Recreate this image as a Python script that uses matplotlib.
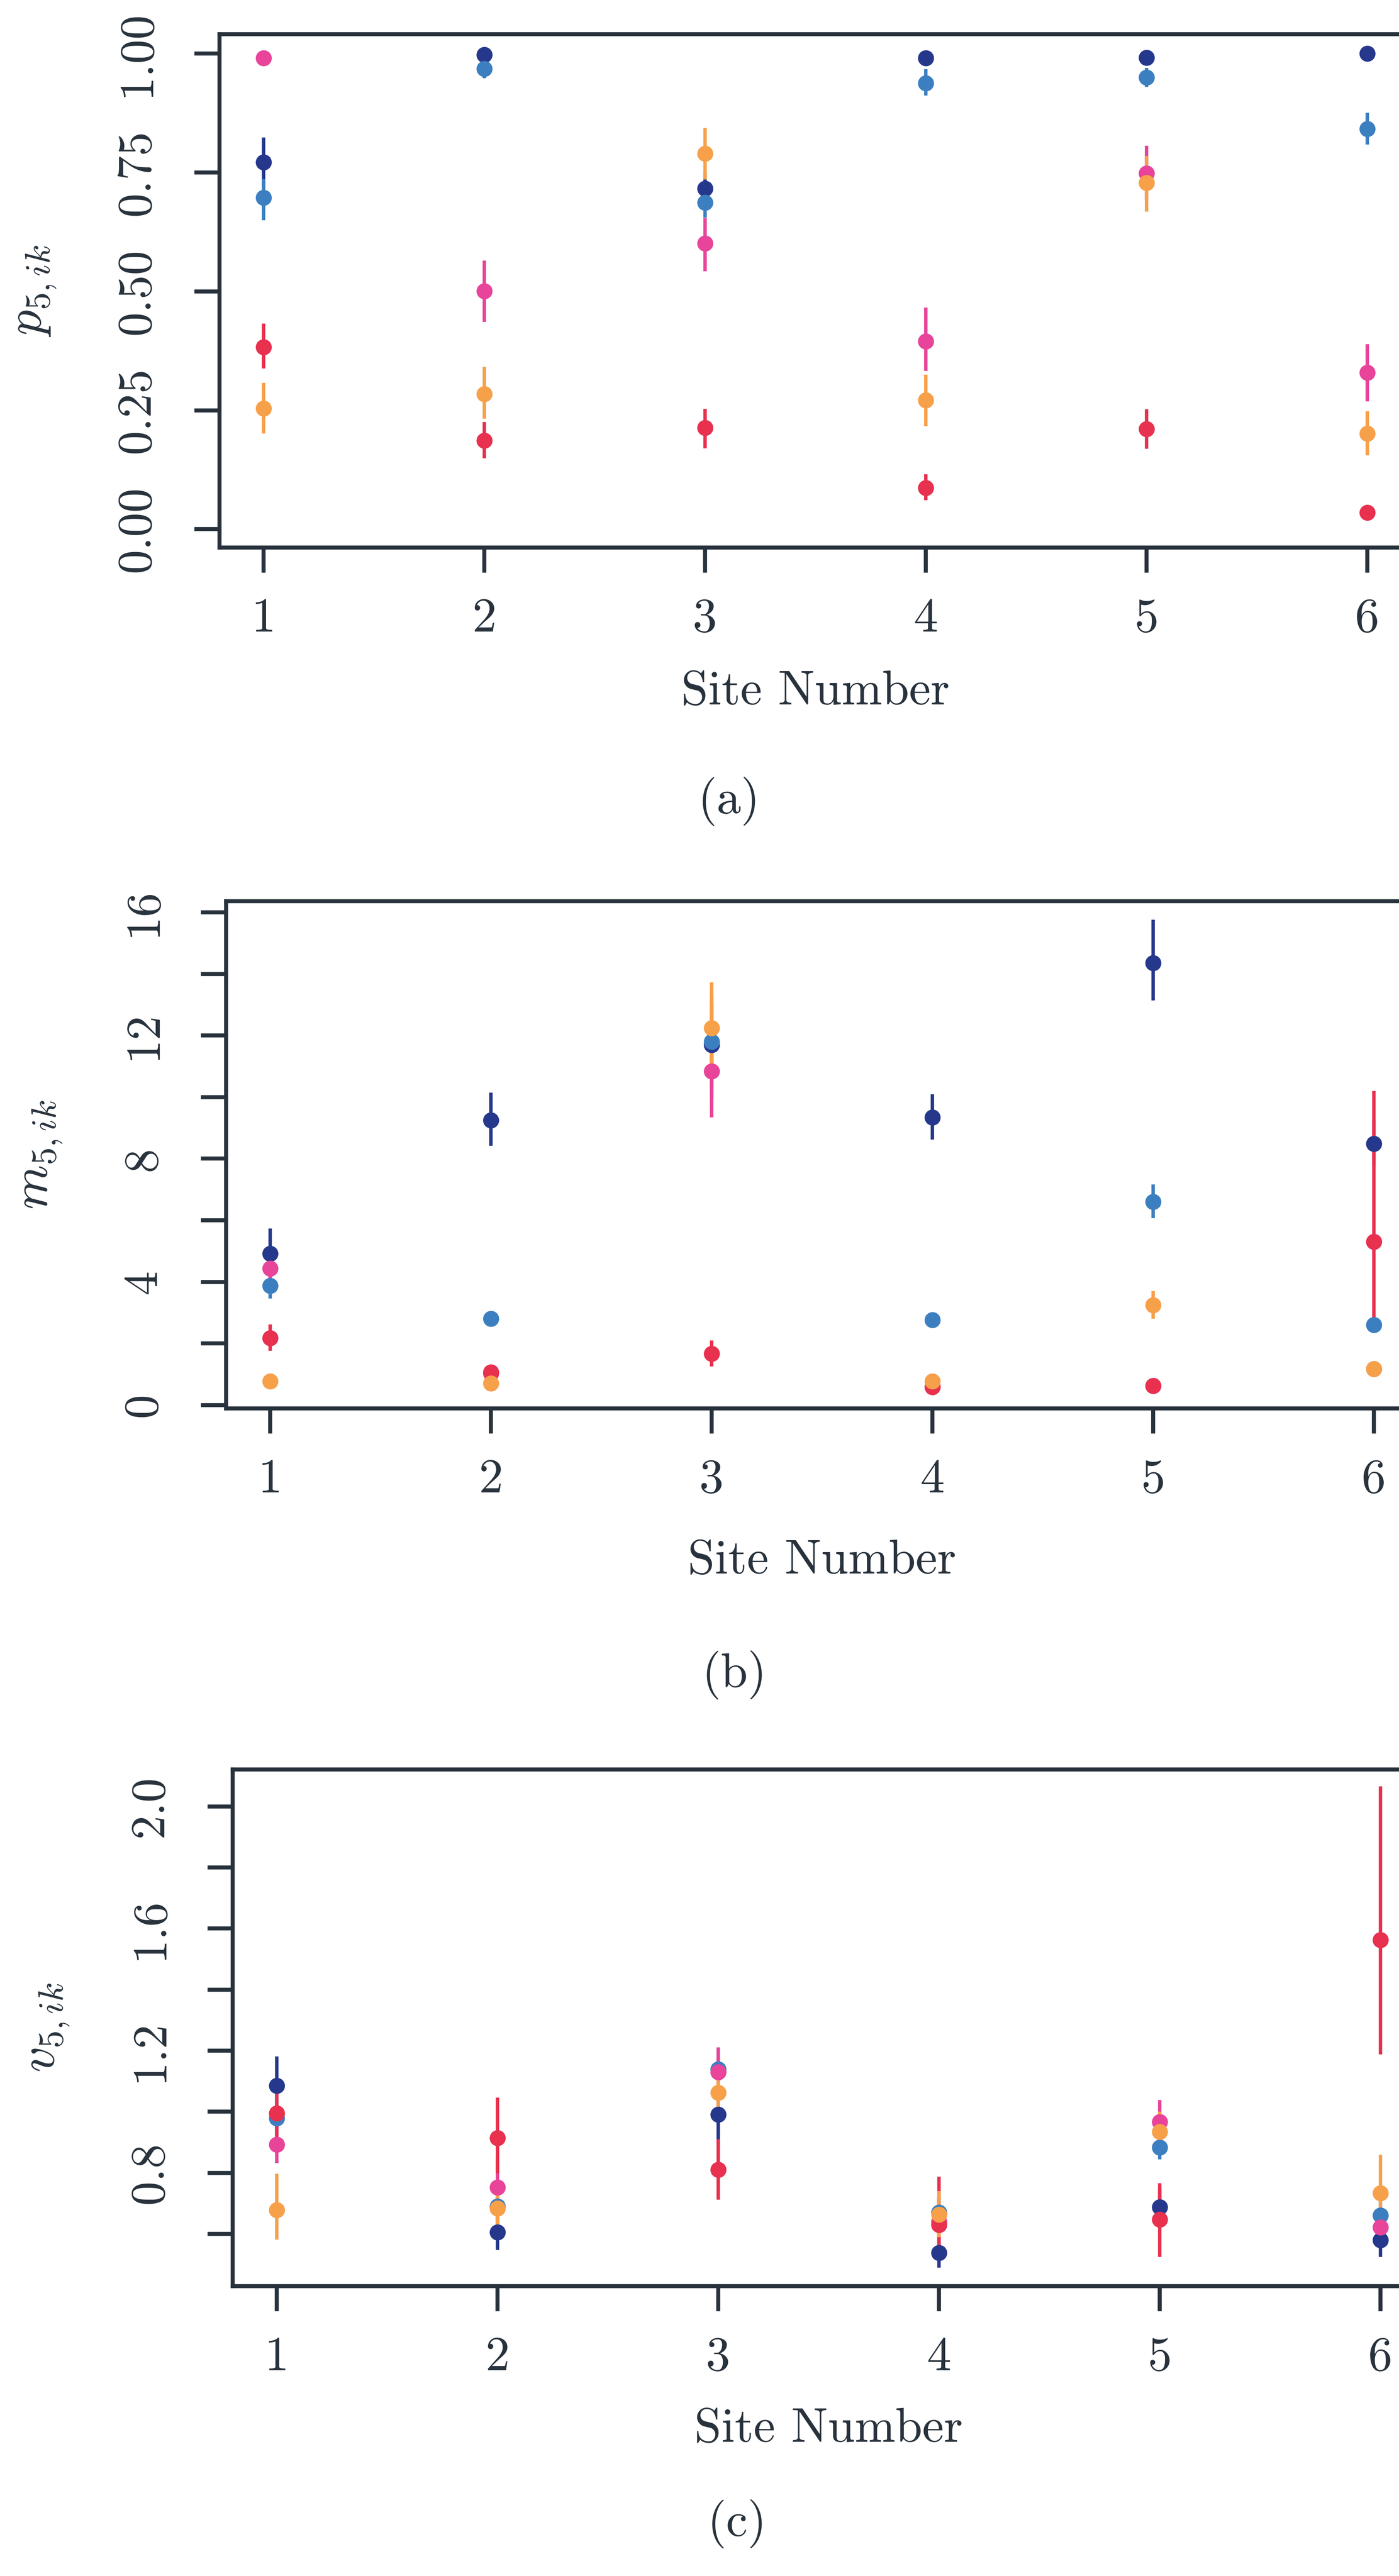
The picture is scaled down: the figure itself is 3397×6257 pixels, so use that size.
import numpy as np
import matplotlib
matplotlib.use("Agg")
import matplotlib.pyplot as plt

plt.rcParams["font.family"] = "cmr10"
plt.rcParams["mathtext.fontset"] = "cm"
plt.rcParams["axes.formatter.use_mathtext"] = True

sites = [1, 2, 3, 4, 5, 6]
colours = ["#26388c", "#3c7fc0", "#e8449a", "#e8304f", "#f7a04a"]

# p_{5,ik}: estimate, lower and upper bound for each group (rows) at each site
p_est = [[0.772, 0.998, 0.716, 0.991, 0.992, 1.000],
         [0.697, 0.968, 0.687, 0.938, 0.950, 0.842],
         [0.991, 0.501, 0.601, 0.395, 0.748, 0.329],
         [0.383, 0.186, 0.213, 0.087, 0.211, 0.035],
         [0.254, 0.284, 0.790, 0.271, 0.728, 0.201]]
p_lo = [[0.722, 0.990, 0.685, 0.980, 0.983, 0.995],
        [0.650, 0.948, 0.655, 0.912, 0.930, 0.809],
        [0.975, 0.436, 0.542, 0.333, 0.690, 0.269],
        [0.338, 0.149, 0.170, 0.061, 0.169, 0.022],
        [0.201, 0.232, 0.735, 0.217, 0.668, 0.155]]
p_hi = [[0.824, 1.000, 0.748, 1.000, 1.000, 1.000],
        [0.736, 0.988, 0.720, 0.967, 0.970, 0.876],
        [1.000, 0.565, 0.654, 0.466, 0.806, 0.389],
        [0.432, 0.225, 0.253, 0.115, 0.252, 0.050],
        [0.308, 0.341, 0.844, 0.325, 0.785, 0.248]]

# m_{5,ik}
m_est = [[4.92, 9.25, 11.70, 9.34, 14.35, 8.48],
         [3.88, 2.80, 11.80, 2.77, 6.60, 2.60],
         [4.44, 1.02, 10.84, 0.60, 0.63, 1.17],
         [2.18, 1.07, 1.67, 0.59, 0.63, 5.31],
         [0.77, 0.71, 12.24, 0.77, 3.25, 1.17]]
m_lo = [[4.10, 8.42, 9.95, 8.62, 13.14, 7.74],
        [3.46, 2.60, 10.30, 2.60, 6.06, 2.45],
        [4.05, 0.90, 9.34, 0.50, 0.55, 1.05],
        [1.76, 0.90, 1.25, 0.50, 0.55, 2.75],
        [0.70, 0.65, 10.80, 0.70, 2.80, 1.10]]
m_hi = [[5.73, 10.15, 13.31, 10.09, 15.76, 9.25],
        [4.30, 3.00, 13.00, 2.95, 7.16, 2.75],
        [4.85, 1.15, 12.30, 0.70, 0.72, 1.30],
        [2.62, 1.25, 2.09, 0.68, 0.72, 10.20],
        [0.85, 0.78, 13.73, 0.85, 3.70, 1.25]]

# v_{5,ik}
v_est = [[1.085, 0.605, 0.991, 0.538, 0.688, 0.580],
         [0.979, 0.690, 1.139, 0.670, 0.884, 0.661],
         [0.893, 0.752, 1.130, 0.640, 0.967, 0.622],
         [0.995, 0.914, 0.811, 0.630, 0.648, 1.563],
         [0.679, 0.684, 1.063, 0.664, 0.935, 0.734]]
v_lo = [[0.990, 0.547, 0.907, 0.489, 0.630, 0.525],
        [0.920, 0.640, 1.080, 0.620, 0.844, 0.610],
        [0.832, 0.680, 1.050, 0.570, 0.900, 0.560],
        [0.900, 0.798, 0.712, 0.550, 0.525, 1.188],
        [0.582, 0.600, 0.980, 0.590, 0.870, 0.610]]
v_hi = [[1.181, 0.660, 1.070, 0.590, 0.750, 0.640],
        [1.040, 0.740, 1.190, 0.720, 0.930, 0.710],
        [0.955, 0.849, 1.211, 0.720, 1.039, 0.680],
        [1.090, 1.046, 0.910, 0.787, 0.766, 2.066],
        [0.797, 0.770, 1.150, 0.740, 1.000, 0.859]]

p_ticks = [0.0, 0.25, 0.5, 0.75, 1.0]
p_labels = ["0.00", "0.25", "0.50", "0.75", "1.00"]
m_ticks = [0, 2, 4, 6, 8, 10, 12, 14, 16]
m_labels = ["0", "", "4", "", "8", "", "12", "", "16"]
v_ticks = [0.6, 0.8, 1.0, 1.2, 1.4, 1.6, 1.8, 2.0]
v_labels = ["", "0.8", "", "1.2", "", "1.6", "", "2.0"]

W, H = 3398, 6257
ink = "#28323c"
fs = 85

fig = plt.figure(figsize=(W / 100, H / 100), dpi=100)
fig.patch.set_facecolor("white")


def panel(rect, est, lo, hi, ylim, ticks, labels, ylabel, ylab_x, xlab_y,
          caption, cap_xy):
    ax = fig.add_axes(rect)
    for k in range(len(est)):
        y = np.array(est[k])
        err = [y - np.array(lo[k]), np.array(hi[k]) - y]
        ax.errorbar(sites, y, yerr=err, fmt="o", color=colours[k], ms=28,
                    mew=0, elinewidth=6, capsize=20, capthick=6)
    ax.set_xlim(0.8, 6.2)
    ax.set_ylim(*ylim)
    ax.set_xticks(sites, [str(s) for s in sites])
    ax.set_yticks(ticks, labels, rotation=90, va="center", ha="center")
    ax.tick_params(axis="both", direction="out", length=44, width=7,
                   color=ink, labelcolor=ink, labelsize=fs)
    ax.tick_params(axis="x", pad=44)
    ax.tick_params(axis="y", pad=100)
    for side in ax.spines.values():
        side.set_linewidth(7)
        side.set_color(ink)
    ax.set_xlabel("Site Number", fontsize=fs, color=ink)
    ax.xaxis.set_label_coords(0.5, xlab_y)
    fig.text(ylab_x / W, (rect[1] + rect[3] / 2), ylabel, rotation=90,
             ha="center", va="center", fontsize=fs + 4, color=ink)
    fig.text(cap_xy[0] / W, 1 - cap_xy[1] / H, caption, ha="center",
             va="center", fontsize=fs, color=ink)
    return ax


panel([533 / W, 1 - 1330 / H, 2894 / W, 1247 / H], p_est, p_lo, p_hi,
      (-0.0387, 1.041), p_ticks, p_labels, r"$p_{5,ik}$", 85, -0.24,
      "(a)", (1770, 1946))
panel([549 / W, 1 - 3421 / H, 2894 / W, 1232 / H], m_est, m_lo, m_hi,
      (-0.11, 16.36), m_ticks, m_labels, r"$m_{5,ik}$", 100, -0.259,
      "(b)", (1783, 4068))
panel([565 / W, 1 - 5553 / H, 2894 / W, 1255 / H], v_est, v_lo, v_hi,
      (0.429, 2.121), v_ticks, v_labels, r"$v_{5,ik}$", 117, -0.236,
      "(c)", (1790, 6131))

fig.savefig("out.png", dpi=100, facecolor="white")
